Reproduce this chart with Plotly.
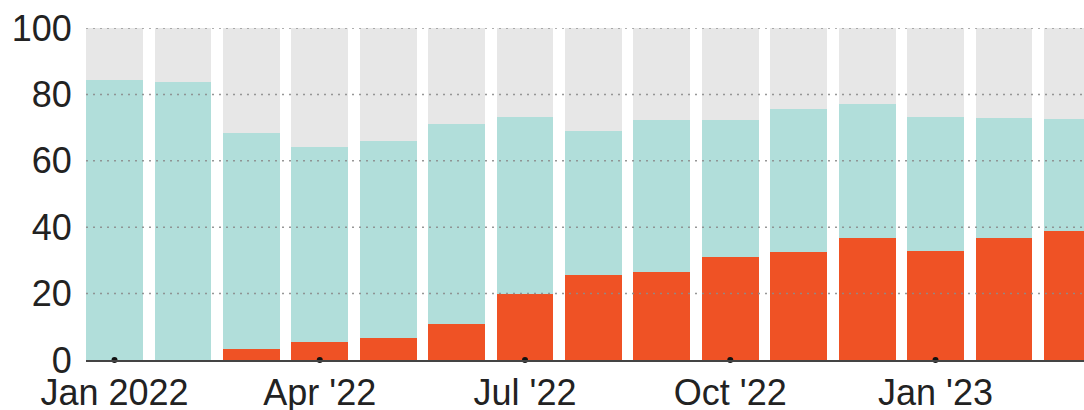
import plotly.graph_objects as go

months = ["Jan 2022", "Feb 2022", "Mar 2022", "Apr 2022", "May 2022", "Jun 2022",
          "Jul 2022", "Aug 2022", "Sep 2022", "Oct 2022", "Nov 2022", "Dec 2022",
          "Jan 2023", "Feb 2023", "Mar 2023"]
red_vals = [0, 0, 3.2, 5.5, 6.5, 10.8, 19.9, 25.6, 26.6, 30.9, 32.6, 36.8, 32.9, 36.8, 38.9]
total_vals = [84.3, 83.6, 68.5, 64.3, 66.0, 71.0, 73.1, 69.0, 72.4, 72.4, 75.6, 77.0, 73.1, 72.8, 72.6]
teal_vals = [t - r for t, r in zip(total_vals, red_vals)]
gray_vals = [100 - t for t in total_vals]

tick_idx = [0, 3, 6, 9, 12]
tick_text = ["Jan 2022", "Apr '22", "Jul '22", "Oct '22", "Jan '23"]
y_ticks = [0, 20, 40, 60, 80, 100]

x = list(range(len(months)))

RED = "#EF5225"
TEAL = "#B1DEDA"
GRAY = "#E7E7E7"

fig = go.Figure()
fig.add_trace(go.Bar(x=x, y=red_vals, marker=dict(color=RED, line=dict(width=0)), hovertext=months, name="red"))
fig.add_trace(go.Bar(x=x, y=teal_vals, marker=dict(color=TEAL, line=dict(width=0)), hovertext=months, name="teal"))
fig.add_trace(go.Bar(x=x, y=gray_vals, marker=dict(color=GRAY, line=dict(width=0)), hovertext=months, name="gray"))
fig.add_trace(go.Scatter(x=tick_idx, y=[0] * len(tick_idx), mode="markers",
                         marker=dict(color="#111111", size=6), cliponaxis=False, name="ticks"))

for v in y_ticks[1:]:
    fig.add_shape(type="line", xref="paper", x0=0, x1=1, yref="y", y0=v, y1=v,
                  line=dict(color="rgba(140,140,140,0.9)", width=1.5, dash="2px,5px"),
                  layer="above")

fig.update_layout(
    width=1084, height=410,
    margin=dict(l=86, r=0, t=28, b=50),
    barmode="stack", bargap=0.17,
    showlegend=False,
    plot_bgcolor="white", paper_bgcolor="white",
    font=dict(family="Liberation Sans, Arial, sans-serif", size=36, color="#222222"),
    xaxis=dict(range=[-0.417, 14.17], tickvals=tick_idx, ticktext=tick_text,
               showgrid=False, zeroline=False, showline=True, linecolor="#444444",
               linewidth=1.5, ticks="", layer="above traces", fixedrange=True,
               automargin=False),
    yaxis=dict(range=[0, 100], tickvals=y_ticks, showgrid=False, zeroline=False,
               showline=False, ticks="outside", ticklen=6, tickcolor="rgba(0,0,0,0)",
               fixedrange=True, automargin=False),
)

fig.write_html("out.html")
